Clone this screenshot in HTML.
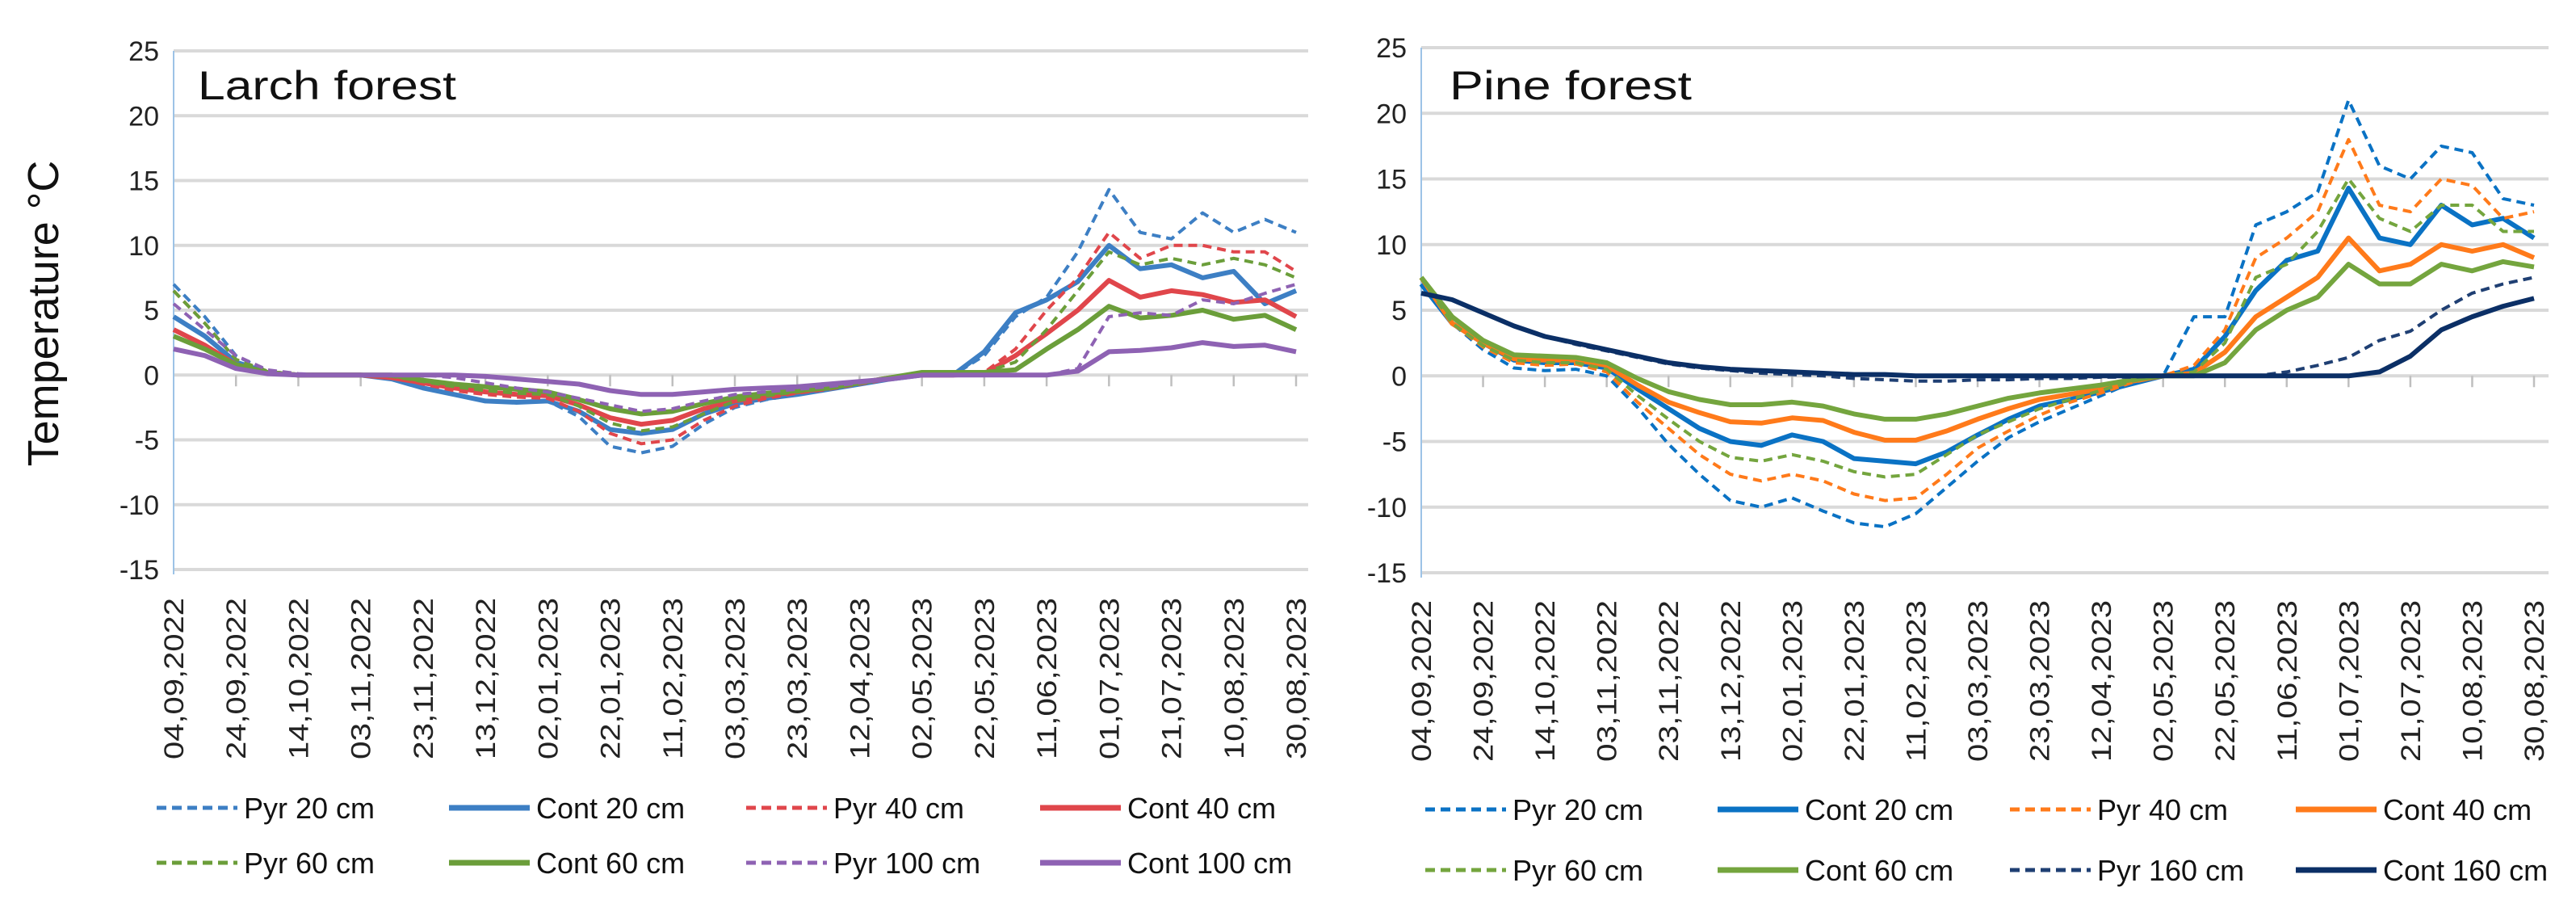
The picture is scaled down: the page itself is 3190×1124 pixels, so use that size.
<!DOCTYPE html>
<html><head><meta charset="utf-8"><style>
html,body{margin:0;padding:0;background:#fff;}
svg{display:block;font-family:"Liberation Sans",sans-serif;}
</style></head><body>
<svg id="chart" width="3190" height="1124" viewBox="0 0 3190 1124" xmlns="http://www.w3.org/2000/svg">
<rect x="0" y="0" width="3190" height="1124" fill="#fff"/>
<text transform="translate(72,388) rotate(-90)" text-anchor="middle" font-size="54" fill="#111">Temperature °C</text>
<g id="left"></g>
<g id="right"></g>
</svg>
<script>
const dateLabels = ["04,09,2022","24,09,2022","14,10,2022","03,11,2022","23,11,2022","13,12,2022","02,01,2023","22,01,2023","11,02,2023","03,03,2023","23,03,2023","12,04,2023","02,05,2023","22,05,2023","11,06,2023","01,07,2023","21,07,2023","10,08,2023","30,08,2023"];
const yTicks = [-15,-10,-5,0,5,10,15,20,25];
const dayStep = 10; // values sampled every 10 days from 04,09,2022

// Larch forest series
const larchPyr20  = [7,4.5,1.5,0.3,0,0,0,-0.3,-1,-1.5,-2,-2.1,-2,-3.2,-5.5,-6,-5.5,-3.8,-2.5,-1.9,-1.5,-1.1,-0.7,-0.3,0,0,1.5,4.5,6,9.5,14.3,11,10.5,12.5,11,12,11];
const larchCont20 = [4.5,3,1,0.2,0,0,0,-0.3,-1,-1.5,-2,-2.1,-2,-2.8,-4.2,-4.5,-4.2,-3,-2.2,-1.8,-1.5,-1.1,-0.7,-0.3,0,0,1.8,4.8,5.8,7.2,10,8.2,8.5,7.5,8,5.5,6.5];
const larchPyr40  = [6.5,4,1.2,0.3,0,0,0,-0.2,-0.7,-1.2,-1.5,-1.7,-1.8,-2.8,-4.5,-5.3,-5,-3.5,-2.4,-1.8,-1.4,-1.1,-0.7,-0.3,0,0,0.2,2,5,7.5,11,9,10,10,9.5,9.5,8];
const larchCont40 = [3.5,2.3,0.8,0.2,0,0,0,-0.2,-0.6,-1,-1.3,-1.5,-1.6,-2.3,-3.3,-3.8,-3.5,-2.6,-2,-1.6,-1.3,-1,-0.6,-0.2,0,0,0.1,1.5,3.2,5,7.3,6,6.5,6.2,5.6,5.8,4.5];
const larchPyr60  = [6.5,4,1.2,0.3,0,0,0,-0.1,-0.5,-0.9,-1.2,-1.4,-1.5,-2.4,-3.7,-4.3,-4,-3,-2,-1.6,-1.3,-1,-0.6,-0.2,0.2,0.2,0.2,1,3.5,6.5,9.5,8.5,9,8.5,9,8.5,7.5];
const larchCont60 = [3,2,0.8,0.2,0,0,0,0,-0.4,-0.7,-0.9,-1.1,-1.3,-1.9,-2.6,-3,-2.8,-2.2,-1.7,-1.4,-1.2,-1,-0.6,-0.2,0.2,0.2,0.2,0.4,2,3.5,5.3,4.4,4.6,5,4.3,4.6,3.5];
const larchPyr100 = [5.5,3.5,1.5,0.4,0.1,0,0,0,0,-0.2,-0.6,-1,-1.3,-1.8,-2.3,-2.8,-2.6,-2,-1.5,-1.3,-1.1,-0.9,-0.6,-0.3,0,0,0,0,0,0.5,4.5,4.8,4.6,5.8,5.5,6.3,7];
const larchCont100= [2,1.5,0.5,0.1,0,0,0,0,0,0,-0.1,-0.3,-0.5,-0.7,-1.2,-1.5,-1.5,-1.3,-1.1,-1,-0.9,-0.7,-0.5,-0.3,0,0,0,0,0,0.3,1.8,1.9,2.1,2.5,2.2,2.3,1.8];

// Pine forest series
const pinePyr20  = [7.5,4,2,0.6,0.4,0.5,0,-2.4,-5.2,-7.5,-9.5,-10,-9.3,-10.3,-11.2,-11.5,-10.5,-8.5,-6.5,-4.7,-3.5,-2.5,-1.5,-0.5,0,4.5,4.5,11.5,12.5,14,21,16,15,17.5,17,13.5,13];
const pineCont20 = [7,4,2.5,1.2,1,1,0.6,-1,-2.5,-4,-5,-5.3,-4.5,-5,-6.3,-6.5,-6.7,-5.8,-4.5,-3.3,-2.3,-1.8,-1.2,-0.6,0,0.5,3,6.5,8.8,9.5,14.3,10.5,10,13,11.5,12,10.5];
const pinePyr40  = [7.5,4,2.2,1,0.8,0.9,0.3,-2,-4,-6,-7.5,-8,-7.5,-8,-9,-9.5,-9.3,-7.5,-5.5,-4.2,-3,-2,-1.3,-0.5,0,0.8,3.5,9,10.5,12.5,18,13,12.5,15,14.5,12,12.5];
const pineCont40 = [7.5,4,2.5,1.3,1.2,1.2,0.8,-0.7,-2,-2.8,-3.5,-3.6,-3.2,-3.4,-4.3,-4.9,-4.9,-4.2,-3.3,-2.5,-1.8,-1.4,-1,-0.4,0,0.2,1.8,4.5,6,7.5,10.5,8,8.5,10,9.5,10,9];
const pinePyr60  = [7.5,4,2.3,1.2,1,1,0.5,-1.5,-3.3,-5,-6.2,-6.5,-6,-6.5,-7.3,-7.7,-7.5,-6,-4.5,-3.5,-2.5,-1.8,-1.1,-0.4,0,0.3,2.5,7.5,8.5,11,15,12,11,13,13,11,11];
const pineCont60 = [7.5,4.5,2.7,1.6,1.5,1.4,1,-0.2,-1.2,-1.8,-2.2,-2.2,-2,-2.3,-2.9,-3.3,-3.3,-2.9,-2.3,-1.7,-1.3,-1,-0.7,-0.3,0,0,1,3.5,5,6,8.5,7,7,8.5,8,8.7,8.3];
const pinePyr160 = [6.3,5.8,4.8,3.8,3,2.4,1.9,1.4,0.9,0.6,0.4,0.2,0.1,0,-0.2,-0.3,-0.4,-0.4,-0.3,-0.3,-0.2,-0.2,-0.1,-0.1,0,0,0,0,0.3,0.8,1.4,2.7,3.4,5,6.3,7,7.5];
const pineCont160= [6.3,5.8,4.8,3.8,3,2.5,2,1.5,1,0.7,0.5,0.4,0.3,0.2,0.1,0.1,0,0,0,0,0,0,0,0,0,0,0,0,0,0,0,0.3,1.5,3.5,4.5,5.3,5.9];

const NS = "http://www.w3.org/2000/svg";
function mk(parent, tag, attrs, txt){
  const e = document.createElementNS(NS, tag);
  for (const k in attrs) e.setAttribute(k, attrs[k]);
  if (txt !== undefined) e.textContent = txt;
  parent.appendChild(e);
  return e;
}

function drawChart(g, cfg, series){
  const xs = d => cfg.x0 + d * (cfg.x1 - cfg.x0) / 360;
  const ys = v => cfg.y0 + (v - (-15)) * (cfg.y25 - cfg.y0) / 40;
  // gridlines
  yTicks.forEach(t => {
    const l = mk(g, "line", {x1: cfg.x0, x2: cfg.gx, y1: ys(t), y2: ys(t), stroke: "#d9d9d9", "stroke-width": 4});
    
    
    const tx = mk(g, "text", {x: cfg.x0 - 18, y: ys(t) + 12, "text-anchor": "end", "font-size": 34, fill: "#222"}, String(t));
    
    
  });
  const ax = mk(g, "line", {x1: cfg.x0, x2: cfg.x0, y1: ys(25), y2: ys(-15) + 6, stroke: "#9dc3e6", "stroke-width": 2});
  
  
  // ticks on zero line and date labels
  dateLabels.forEach((lab, i) => {
    const x = xs(i * 20);
    if (i > 0) {
      const tk = mk(g, "line", {x1: x, x2: x, y1: ys(0), y2: ys(0) + 14, stroke: "#bfbfbf", "stroke-width": 2.5});
      
      
    }
    const tl = mk(g, "text", {transform: `translate(${x + 12},${cfg.labBottom}) rotate(-90)`, "font-size": 34, fill: "#222", textLength: 200, lengthAdjust: "spacingAndGlyphs"}, lab);
    
    
  });
  // series
  series.forEach(s => {
    const pts = s.data.map((v, i) => xs(i * dayStep).toFixed(1) + "," + ys(v).toFixed(1)).join(" ");
    const p = mk(g, "polyline", {points: pts, fill: "none", stroke: s.color, "stroke-width": s.dash ? 4 : 6, "stroke-linejoin": "round", "stroke-dasharray": s.dash ? "11,7" : "none"});
    
    
  });
  // title
  const t = mk(g, "text", {x: cfg.titleX, y: cfg.titleY, "font-size": 50, fill: "#111", textLength: cfg.titleW, lengthAdjust: "spacingAndGlyphs"}, cfg.title);
  
  
  // legend
  const order = [0,1,2,3,4,5,6,7];
  order.forEach(i => {
    const s = series[i];
    const lx = cfg.legX[i % 4], ly = cfg.legY[Math.floor(i / 4)];
    const leg = mk(g, "g", {});
    
    
    mk(leg, "line", {x1: lx, x2: lx + 100, y1: ly, y2: ly, stroke: s.color, "stroke-width": s.dash ? 5 : 7, "stroke-dasharray": s.dash ? "12,7" : "none"});
    mk(leg, "text", {x: lx + 108, y: ly + 13, "font-size": 36, fill: "#111"}, s.label);
  });
}

const leftSeries = [
  {name: "larch-pyr-20", label: "Pyr 20 cm", data: larchPyr20, color: "#3d7fc4", dash: true},
  {name: "larch-cont-20", label: "Cont 20 cm", data: larchCont20, color: "#3d7fc4", dash: false},
  {name: "larch-pyr-40", label: "Pyr 40 cm", data: larchPyr40, color: "#e0464b", dash: true},
  {name: "larch-cont-40", label: "Cont 40 cm", data: larchCont40, color: "#e0464b", dash: false},
  {name: "larch-pyr-60", label: "Pyr 60 cm", data: larchPyr60, color: "#6b9e3a", dash: true},
  {name: "larch-cont-60", label: "Cont 60 cm", data: larchCont60, color: "#6b9e3a", dash: false},
  {name: "larch-pyr-100", label: "Pyr 100 cm", data: larchPyr100, color: "#8e62b3", dash: true},
  {name: "larch-cont-100", label: "Cont 100 cm", data: larchCont100, color: "#8e62b3", dash: false}
];
const rightSeries = [
  {name: "pine-pyr-20", label: "Pyr 20 cm", data: pinePyr20, color: "#0a72c4", dash: true},
  {name: "pine-cont-20", label: "Cont 20 cm", data: pineCont20, color: "#0a72c4", dash: false},
  {name: "pine-pyr-40", label: "Pyr 40 cm", data: pinePyr40, color: "#ff7a1a", dash: true},
  {name: "pine-cont-40", label: "Cont 40 cm", data: pineCont40, color: "#ff7a1a", dash: false},
  {name: "pine-pyr-60", label: "Pyr 60 cm", data: pinePyr60, color: "#74a53e", dash: true},
  {name: "pine-cont-60", label: "Cont 60 cm", data: pineCont60, color: "#74a53e", dash: false},
  {name: "pine-pyr-160", label: "Pyr 160 cm", data: pinePyr160, color: "#1f3f73", dash: true},
  {name: "pine-cont-160", label: "Cont 160 cm", data: pineCont160, color: "#0b2f66", dash: false}
];

drawChart(document.getElementById("left"), {
  x0: 215, x1: 1605, gx: 1620, y0: 705, y25: 63, labBottom: 940,
  title: "Larch forest", titleX: 245, titleY: 123, titleW: 320,
  legX: [194, 556, 924, 1288], legY: [1000, 1068]
}, leftSeries);
drawChart(document.getElementById("right"), {
  x0: 1760, x1: 3138, gx: 3156, y0: 709, y25: 59, labBottom: 943,
  title: "Pine forest", titleX: 1795, titleY: 123, titleW: 300,
  legX: [1765, 2127, 2489, 2843], legY: [1002, 1077]
}, rightSeries);
</script>
</body></html>
